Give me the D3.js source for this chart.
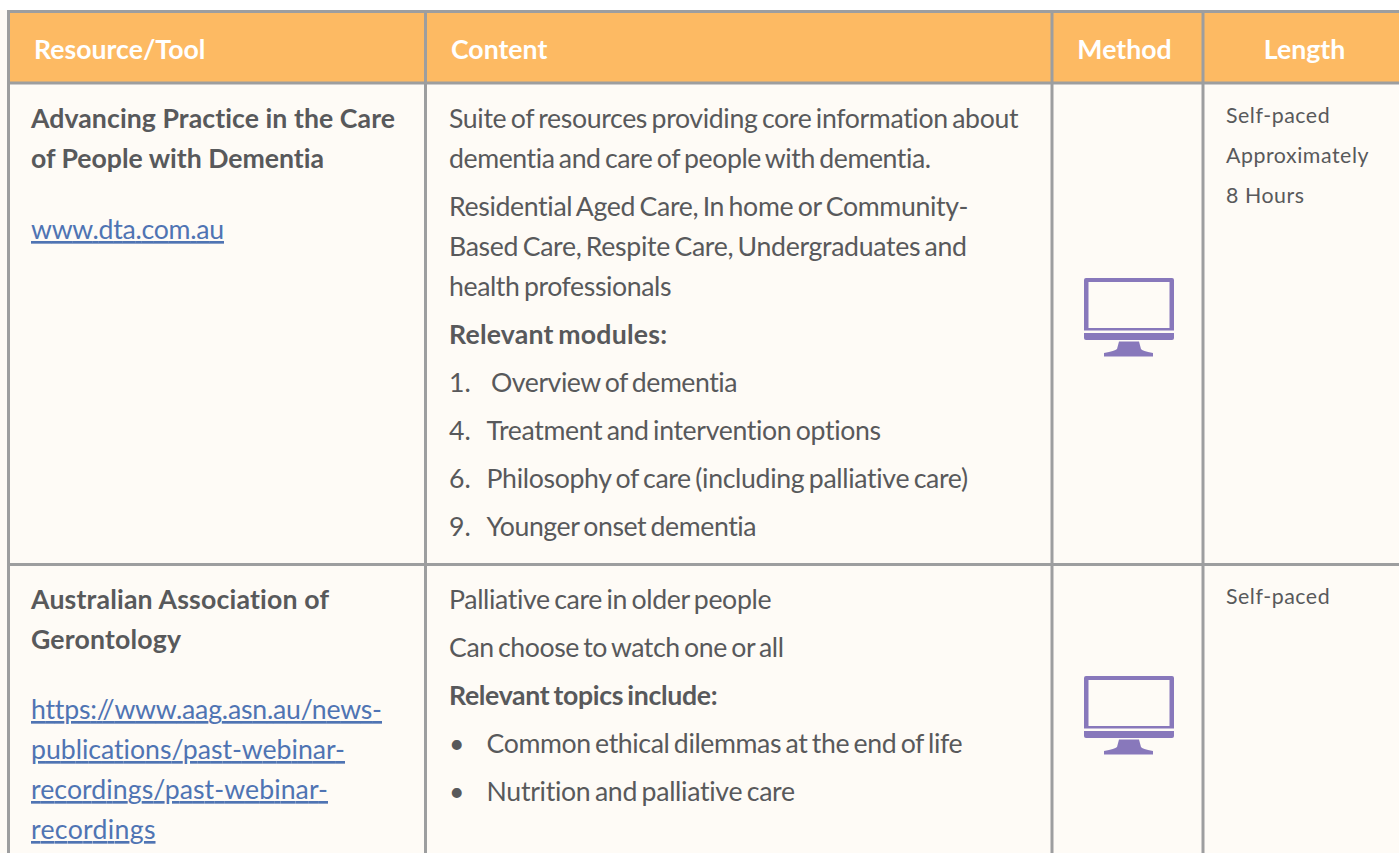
<!DOCTYPE html>
<html>
<head>
<meta charset="utf-8">
<script src="https://d3js.org/d3.v7.min.js"></script>
<style>
  html, body { margin: 0; padding: 0; background: #fefbf6; overflow: hidden; }
  svg { display: block; font-family: Lato, sans-serif; font-variant-ligatures: none; }
</style>
</head>
<body>
<svg id="root" width="1399" height="853"></svg>
<script>
// Table contents
const headers = ["Resource/Tool", "Content", "Method", "Length"];

const row1Resource = [
  { text: "Advancing Practice in the Care", kind: "bold" },
  { text: "of People with Dementia", kind: "bold" },
  { text: "www.dta.com.au", kind: "link" }
];
const row1Content = [
  { text: "Suite of resources providing core information about", kind: "plain" },
  { text: "dementia and care of people with dementia.", kind: "plain" },
  { text: "Residential Aged Care, In home or Community-", kind: "plain" },
  { text: "Based Care, Respite Care, Undergraduates and", kind: "plain" },
  { text: "health professionals", kind: "plain" },
  { text: "Relevant modules:", kind: "bold" },
  { text: "1.", kind: "plain", item: "Overview of dementia" },
  { text: "4.", kind: "plain", item: "Treatment and intervention options" },
  { text: "6.", kind: "plain", item: "Philosophy of care (including palliative care)" },
  { text: "9.", kind: "plain", item: "Younger onset dementia" }
];
const row1Length = ["Self-paced", "Approximately", "8 Hours"];

const row2Resource = [
  { text: "Australian Association of", kind: "bold" },
  { text: "Gerontology", kind: "bold" },
  { text: "https://www.aag.asn.au/news-", kind: "link" },
  { text: "publications/past-webinar-", kind: "link" },
  { text: "recordings/past-webinar-", kind: "link" },
  { text: "recordings", kind: "link" }
];
const row2Content = [
  { text: "Palliative care in older people", kind: "plain" },
  { text: "Can choose to watch one or all", kind: "plain" },
  { text: "Relevant topics include:", kind: "bold" },
  { text: "•", kind: "plain", item: "Common ethical dilemmas at the end of life" },
  { text: "•", kind: "plain", item: "Nutrition and palliative care" }
];
const row2Length = ["Self-paced"];

// Layout
const gridX = [8.5, 425.5, 1052, 1203];
const gridY = [11.5, 83, 564.5];
const gridColor = "#9d9e9f";
const textColor = "#58595b";
const linkColor = "#4f74b3";
const iconColor = "#8878bb";
const bodySize = "26.67px";

const svg = d3.select("#root");

// white strip above the table
svg.append("rect").attr("width", 1399).attr("height", 10).attr("fill", "#fff");

// header band
svg.append("rect")
  .attr("x", gridX[0]).attr("y", gridY[0])
  .attr("width", 1399 - gridX[0]).attr("height", gridY[1] - gridY[0])
  .attr("fill", "#fdba63");

// header text
const headerX = [34, 451, 1124.5, 1304.5];
svg.selectAll(".header")
  .data(headers)
  .join("text")
  .attr("class", "header")
  .attr("x", (d, i) => headerX[i])
  .attr("y", 58.5)
  .attr("text-anchor", (d, i) => (i < 2 ? "start" : "middle"))
  .attr("fill", "#fff")
  .style("font-size", bodySize)
  .style("font-weight", 700)
  .text((d) => d);

// grid lines
svg.selectAll(".hline")
  .data(gridY)
  .join("line")
  .attr("class", "hline")
  .attr("x1", gridX[0] - 1.5).attr("x2", 1399)
  .attr("y1", (d) => d).attr("y2", (d) => d)
  .attr("stroke", gridColor).attr("stroke-width", 3);
svg.selectAll(".vline")
  .data(gridX)
  .join("line")
  .attr("class", "vline")
  .attr("x1", (d) => d).attr("x2", (d) => d)
  .attr("y1", gridY[0] - 1.5).attr("y2", 853)
  .attr("stroke", gridColor).attr("stroke-width", 3);

/**
 * Writes a block of lines, one baseline per line. Each line is fitted to the
 * right edge it has in the reference (ends), list items start at itemX.
 */
function drawLines(lines, x, baselines, ends, itemX, wordSpacing) {
  const g = svg.append("g");
  const baseFor = (d) => baselines[lines.indexOf(d)];
  const endFor = (d) => ends[lines.indexOf(d)];
  const startFor = (d) => (d.text === "1." ? itemX + 4.5 : itemX);

  g.selectAll(".line")
    .data(lines)
    .join("text")
    .attr("class", "line")
    .attr("x", x)
    .attr("y", baseFor)
    .attr("textLength", (d) => (d.item ? null : endFor(d) - x))
    .attr("fill", (d) => (d.kind === "link" ? linkColor : textColor))
    .style("font-size", bodySize)
    .style("word-spacing", wordSpacing)
    .style("font-weight", (d) => (d.kind === "bold" ? 700 : 400))
    .style("text-decoration", (d) => (d.kind === "link" ? "underline" : "none"))
    .text((d) => d.text);

  g.selectAll(".item")
    .data(lines.filter((d) => d.item))
    .join("text")
    .attr("class", "item")
    .attr("x", startFor)
    .attr("y", baseFor)
    .attr("textLength", (d) => endFor(d) - startFor(d))
    .attr("fill", textColor)
    .style("font-size", bodySize)
    .style("word-spacing", wordSpacing)
    .text((d) => d.item);
}

drawLines(row1Resource, 31, [128, 168, 239], [395, 324, 224], 0, "0px");
drawLines(row2Resource, 31, [609, 649, 719, 759, 799, 839], [329, 181, 382, 345, 328, 155.5], 0, "0px");
drawLines(row1Content, 449, [128, 168, 216, 256, 296, 344, 392, 440, 488, 536],
  [1018.5, 931, 968.5, 967, 671.5, 667, 737.5, 881, 968, 756.5], 486.5, "-2px");
drawLines(row2Content, 449, [609, 657, 705, 753, 801],
  [771.5, 784, 717.5, 962.5, 795], 486.5, "-2px");

// Length column
function drawLength(lines, baselines) {
  svg.append("g").selectAll("text")
    .data(lines)
    .join("text")
    .attr("x", 1226)
    .attr("y", (d, i) => baselines[i])
    .attr("fill", textColor)
    .style("font-size", "21.33px")
    .style("letter-spacing", "0.55px")
    .text((d) => d);
}
drawLength(row1Length, [123, 163, 203]);
drawLength(row2Length, [604]);

// Computer icon for the Method column, top-left at (x, y)
function drawMonitor(x, y) {
  const g = svg.append("g").attr("transform", `translate(${x},${y})`).attr("fill", iconColor);
  g.append("path")
    .attr("fill-rule", "evenodd")
    .attr("d", "M2,0H88a2,2 0 0 1 2,2V52.5H0V2a2,2 0 0 1 2,-2ZM4.5,4V50H85.5V4Z");
  g.append("path").attr("d", "M0,55H90V60a2,2 0 0 1 -2,2H2a2,2 0 0 1 -2,-2Z");
  g.append("path").attr("d", "M35,63.5H55L57,71Q58,73 69,75V78.5H20V75Q31,73 33,71Z");
}
drawMonitor(1084, 278);
drawMonitor(1084, 676);
</script>
</body>
</html>
